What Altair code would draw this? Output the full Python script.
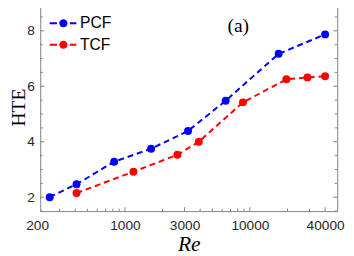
import altair as alt
import pandas as pd

# ---- data ----
series = ["PCF", "TCF"]
colors = ["#0000ff", "#ff0000"]
re_pcf = [250, 410, 820, 1620, 3200, 6400, 17000, 40000]
hte_pcf = [2.0, 2.47, 3.28, 3.75, 4.39, 5.48, 7.17, 7.87]
re_tcf = [410, 1170, 2630, 3900, 8800, 19600, 28900, 40000]
hte_tcf = [2.15, 2.92, 3.53, 4.0, 5.42, 6.25, 6.32, 6.36]

x_label_values = [1000, 3000, 10000, 40000]
x_outside_label = [200]
x_minor = [300, 400, 500, 600, 700, 800, 900,
           2000, 4000, 5000, 6000, 7000, 8000, 9000,
           20000, 30000]
y_label_values = [2, 4, 6, 8]
y_minor = [1.5, 2.5, 3, 3.5, 4.5, 5, 5.5, 6.5, 7, 7.5, 8.5]
annot_text = ["(a)"]
annot_x = [8070]
annot_y = [8.165]

# ---- layout ----
W, H = 304, 213
GREY = "#808080"
LABEL_COLOR = "#262626"
SANS = "Liberation Sans"
SERIF = "Liberation Serif"

df = pd.DataFrame({
    "Re": re_pcf + re_tcf,
    "HTE": hte_pcf + hte_tcf,
    "series": [series[0]] * len(re_pcf) + [series[1]] * len(re_tcf),
})

xscale = alt.Scale(type="log", domain=[210, 50000])
yscale = alt.Scale(domain=[1.5, 9], nice=False, zero=False)

xaxis = alt.Axis(values=x_label_values, format="d", ticks=False, domain=False,
                 grid=False, labelFont=SANS, labelFontSize=14, labelColor=LABEL_COLOR,
                 labelPadding=8, title="Re", titleFont=SERIF, titleFontSize=22,
                 titleFontStyle="italic", titleFontWeight="normal", titleColor="black",
                 titlePadding=1)
yaxis = alt.Axis(values=y_label_values, ticks=False, domain=False, grid=False,
                 labelFont=SANS, labelFontSize=14, labelColor=LABEL_COLOR,
                 labelPadding=6, title="HTE", titleFont=SERIF, titleFontSize=20,
                 titleFontWeight="normal", titleColor="black",
                 titleX=-16, titleY=H / 2, titleAngle=270, titleAlign="center",
                 titleBaseline="alphabetic")

cscale = alt.Scale(domain=series, range=colors)

legend_path = ("M-1,-0.07H-0.47V0.07H-1Z "
               "M0.47,-0.07H0.95V0.07H0.47Z "
               "M-0.3,0A0.3,0.3,0,1,1,0.3,0A0.3,0.3,0,1,1,-0.3,0Z")
legend = alt.Legend(orient="none", legendX=9.7, legendY=6.7, title=None,
                    symbolType=legend_path, symbolSize=784, symbolStrokeWidth=0,
                    symbolOpacity=1, labelFont=SANS, labelFontSize=16,
                    labelColor="black", labelOffset=3, rowPadding=-6, padding=0)

base = alt.Chart(df)
X = alt.X("Re:Q", scale=xscale, axis=xaxis)
Y = alt.Y("HTE:Q", scale=yscale, axis=yaxis)

line_layers = [
    base.transform_filter(alt.datum.series == s)
    .mark_line(strokeWidth=2, strokeDash=[6, 4], color=c)
    .encode(x=X, y=Y)
    for s, c in zip(series, colors)
]

points = base.mark_circle(size=66, opacity=1).encode(
    x=X, y=Y,
    color=alt.Color("series:N", scale=cscale, legend=legend),
)

# ticks (inward, mirrored)
xmaj = pd.DataFrame({"Re": x_label_values})
xmin = pd.DataFrame({"Re": x_minor})
ymaj = pd.DataFrame({"HTE": y_label_values})
ymin = pd.DataFrame({"HTE": y_minor})


def xticks(d, length):
    bottom = alt.Chart(d).mark_rule(color=GREY, strokeWidth=1).encode(
        x=X, y=alt.value(H), y2=alt.value(H - length))
    top = alt.Chart(d).mark_rule(color=GREY, strokeWidth=1).encode(
        x=X, y=alt.value(0), y2=alt.value(length))
    return [bottom, top]


def yticks(d, length):
    left = alt.Chart(d).mark_rule(color=GREY, strokeWidth=1).encode(
        y=Y, x=alt.value(0), x2=alt.value(length))
    right = alt.Chart(d).mark_rule(color=GREY, strokeWidth=1).encode(
        y=Y, x=alt.value(W), x2=alt.value(W - length))
    return [left, right]


tick_layers = xticks(xmaj, 4) + xticks(xmin, 2.5) + yticks(ymaj, 4) + yticks(ymin, 2.5)

outside_label = alt.Chart(pd.DataFrame({"Re": x_outside_label})).mark_text(
    font=SANS, fontSize=14, color=LABEL_COLOR, baseline="top", align="center"
).encode(
    x=X,
    y=alt.value(H + 8),
    text=alt.Text("Re:Q", format="d"),
)

annot = alt.Chart(pd.DataFrame({"t": annot_text, "Re": annot_x, "HTE": annot_y})).mark_text(
    font=SERIF, fontSize=20, color="black", baseline="middle", align="center"
).encode(x=X, y=Y, text="t:N")

chart = alt.layer(*line_layers, points, *tick_layers, outside_label, annot).properties(
    width=W, height=H,
    padding={"left": 33, "top": -8, "right": 9, "bottom": 42},
    autosize=alt.AutoSizeParams(type="none"),
    background="white",
).configure_view(stroke=GREY, strokeWidth=1)

chart.save("out.html", embed_options={"renderer": "svg", "actions": False})
